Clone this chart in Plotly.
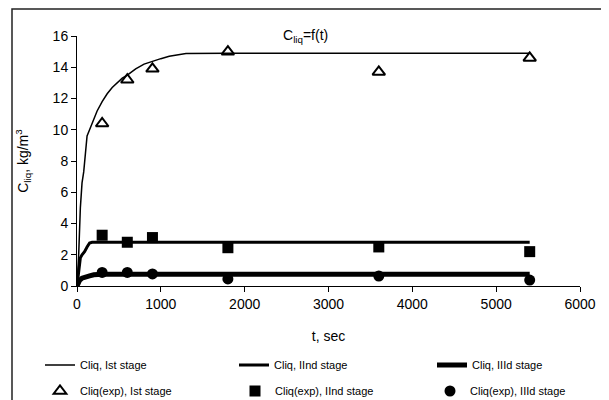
import plotly.graph_objects as go

# model curves
t_I = [0, 20, 40, 60, 80, 100, 120, 150, 180, 210, 240, 300, 360, 420, 480, 540, 600,
       700, 800, 900, 1000, 1100, 1200, 1300, 1800, 2700, 3600, 4500, 5400]
c_I = [0, 2.0, 5.0, 6.6, 7.3, 8.5, 9.6, 10.0, 10.4, 10.9, 11.2, 11.8, 12.3, 12.7, 13.0, 13.3, 13.5,
       13.9, 14.2, 14.4, 14.55, 14.7, 14.8, 14.88, 14.9, 14.9, 14.9, 14.9, 14.9]
t_II = [0, 20, 40, 60, 90, 120, 150, 180, 300, 600, 900, 1800, 3600, 5400]
c_II = [0, 1.0, 1.8, 2.0, 2.2, 2.5, 2.75, 2.8, 2.8, 2.8, 2.8, 2.8, 2.8, 2.8]
t_III = [0, 30, 60, 100, 150, 200, 300, 600, 900, 1800, 3600, 5400]
c_III = [0, 0.35, 0.5, 0.6, 0.65, 0.72, 0.75, 0.75, 0.75, 0.75, 0.75, 0.75]

# experimental points
t_exp = [300, 600, 900, 1800, 3600, 5400]
e_I = [10.4, 13.2, 13.9, 15.0, 13.7, 14.6]
e_II = [3.25, 2.8, 3.1, 2.45, 2.5, 2.2]
e_III = [0.87, 0.87, 0.77, 0.45, 0.64, 0.38]

x_ticks = [0, 1000, 2000, 3000, 4000, 5000, 6000]
y_ticks = [0, 2, 4, 6, 8, 10, 12, 14, 16]

series_names = ["Cliq, Ist stage", "Cliq, IInd stage", "Cliq, IIId stage",
                "Cliq(exp), Ist stage", "Cliq(exp), IInd stage", "Cliq(exp), IIId stage"]

FONT = "Liberation Sans, Arial, sans-serif"

OFF = 8  # page body margin
W, H = 609 - OFF, 400 - OFF
L, R, T, B = 77 - OFF, 29, 36 - OFF, 114
pw, ph = W - L - R, H - T - B

def px2x(p):
    return (p - OFF - L) / pw

def py2y(p):
    return (H - B - (p - OFF)) / ph

fig = go.Figure()
fig.add_trace(go.Scatter(x=t_I, y=c_I, mode="lines", name=series_names[0],
                         line=dict(color="black", width=1.5), legend="legend"))
fig.add_trace(go.Scatter(x=t_II, y=c_II, mode="lines", name=series_names[1],
                         line=dict(color="black", width=3), legend="legend2"))
fig.add_trace(go.Scatter(x=t_III, y=c_III, mode="lines", name=series_names[2],
                         line=dict(color="black", width=5), legend="legend3"))
fig.add_trace(go.Scatter(x=t_exp, y=e_I, mode="markers", name=series_names[3],
                         marker=dict(symbol="triangle-up-open", size=11, color="black",
                                     line=dict(width=2, color="black")), legend="legend4"))
fig.add_trace(go.Scatter(x=t_exp, y=e_II, mode="markers", name=series_names[4],
                         marker=dict(symbol="square", size=11, color="black"), legend="legend5"))
fig.add_trace(go.Scatter(x=t_exp, y=e_III, mode="markers", name=series_names[5],
                         marker=dict(symbol="circle", size=11, color="black"), legend="legend6"))

axis_common = dict(showgrid=False, zeroline=False, showline=True, linecolor="black", linewidth=1,
                   ticks="outside", ticklen=5, tickcolor="black", tickwidth=1,
                   tickfont=dict(family=FONT, size=14, color="black"))

def leg(xp, yp):
    return dict(orientation="h", x=px2x(xp), y=py2y(yp), xanchor="left", yanchor="middle",
                bgcolor="rgba(0,0,0,0)", font=dict(family=FONT, size=11, color="black"),
                itemwidth=30)

fig.update_layout(
    width=W, height=H,
    margin=dict(l=L, r=R, t=T, b=B, autoexpand=False),
    paper_bgcolor="white", plot_bgcolor="white",
    font=dict(family=FONT, color="black"),
    xaxis=dict(range=[0, 6000], tickvals=x_ticks, ticktext=[str(v) for v in x_ticks],
               title=dict(text="t, sec", font=dict(family=FONT, size=14, color="black"), standoff=20),
               **axis_common),
    yaxis=dict(range=[0, 16], tickvals=y_ticks, ticktext=[str(v) for v in y_ticks],
               title=dict(text="C<sub>liq</sub>, kg/m<sup>3</sup>",
                          font=dict(family=FONT, size=14, color="black"), standoff=20),
               **axis_common),
    legend=leg(40, 365), legend2=leg(234, 365), legend3=leg(432, 365),
    legend4=leg(40, 391), legend5=leg(235, 391), legend6=leg(430, 391),
    showlegend=True,
)

fig.add_annotation(text="C<sub>liq</sub>=f(t)", xref="paper", yref="paper",
                   x=px2x(305), y=py2y(36), xanchor="center", yanchor="middle",
                   showarrow=False, font=dict(family=FONT, size=14, color="black"))

fig.add_shape(type="rect", xref="paper", yref="paper",
              x0=px2x(12), x1=px2x(604), y0=py2y(410), y1=py2y(9),
              line=dict(color="#222", width=1.5), fillcolor="rgba(0,0,0,0)", layer="below")

fig.write_html("out.html")
